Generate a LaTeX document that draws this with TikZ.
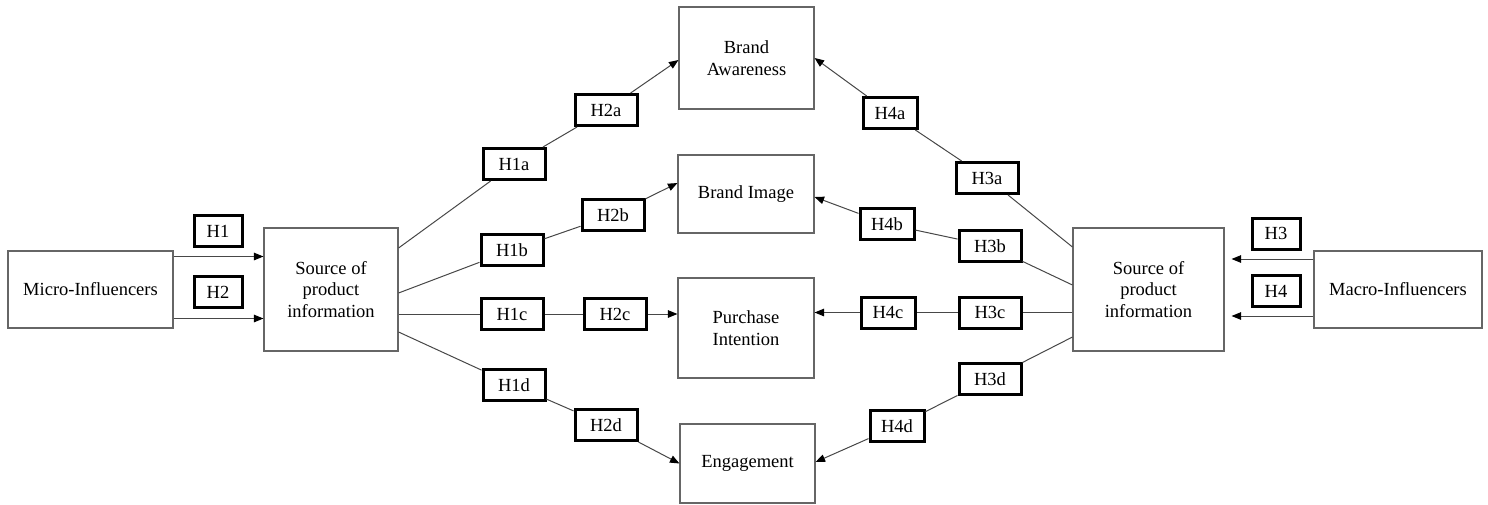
\documentclass[tikz,border=0pt]{standalone}
\usepackage{fontspec}
\setmainfont{Liberation Serif}
\usetikzlibrary{arrows.meta}

\begin{document}
\begin{tikzpicture}[x=1pt,y=-1pt,
    box/.style={draw=black!60,line width=1.1pt,align=center,inner sep=0pt,font=\fontsize{18.5}{21.7}\selectfont},
    hyp/.style={draw=black,line width=3pt,minimum width=62pt,minimum height=31pt,inner sep=0pt,font=\fontsize{18.5}{22}\selectfont},
    link/.style={draw=black!72,line width=1pt},
    arr/.style={link,-{Triangle[length=9.5pt,width=7.5pt,color=black]}}]
            \useasboundingbox (0,0) rectangle (1488,504);

            \node[box,minimum width=165pt,minimum height=77pt] (micro) at (90.5,289.5) {Micro-Influencers};
            \node[box,minimum width=134pt,minimum height=123pt] (src1) at (331,289.5) {Source of\\product\\information};
            \node[box,minimum width=151pt,minimum height=123pt] (src2) at (1148.5,289.5) {Source of\\product\\information};
            \node[box,minimum width=168pt,minimum height=77pt] (macro) at (1398,289.5) {Macro-Influencers};

            \node[box,minimum width=135pt,minimum height=102pt] (aware) at (746.5,58) {Brand\\Awareness};
            \node[box,minimum width=136pt,minimum height=78pt] (image) at (746,194) {Brand Image};
            \node[box,minimum width=136pt,minimum height=100pt] (purch) at (746,328) {Purchase\\Intention};
            \node[box,minimum width=135pt,minimum height=79pt] (engage) at (747.5,463.5) {Engagement};

            \node[hyp,minimum width=48pt] (h1) at (218,231) {H1};
            \node[hyp,minimum width=48pt] (h2) at (218,292) {H2};
            \node[hyp,minimum width=48pt] (h3) at (1276,233.5) {H3};
            \node[hyp,minimum width=48pt] (h4) at (1276,291) {H4};

            \node[hyp] (h1a) at (514,164) {H1a};
            \node[hyp] (h2a) at (606,110) {H2a};
            \node[hyp] (h1b) at (512,250) {H1b};
            \node[hyp] (h2b) at (613,215) {H2b};
            \node[hyp] (h1c) at (512,314) {H1c};
            \node[hyp] (h2c) at (615,314) {H2c};
            \node[hyp] (h1d) at (514,385) {H1d};
            \node[hyp] (h2d) at (606,425) {H2d};

            \node[hyp] (h3a) at (987,178) {H3a};
            \node[hyp,minimum width=54pt] (h4a) at (890,113) {H4a};
            \node[hyp] (h3b) at (990,246) {H3b};
            \node[hyp,minimum width=54pt] (h4b) at (887,224) {H4b};
            \node[hyp] (h3c) at (990,312.5) {H3c};
            \node[hyp,minimum width=54pt] (h4c) at (888,312.5) {H4c};
            \node[hyp] (h3d) at (990,379) {H3d};
            \node[hyp,minimum width=54pt] (h4d) at (897,426) {H4d};

            \draw[arr] ([yshift=33pt]micro.east) -- ([yshift=33pt]src1.west);
            \draw[arr] ([yshift=-29pt]micro.east) -- ([yshift=-29pt]src1.west);
            \draw[arr,shorten >=7pt] ([yshift=30.5pt]macro.west) -- ([yshift=30.5pt]src2.east);
            \draw[arr,shorten >=7pt] ([yshift=-26.5pt]macro.west) -- ([yshift=-26.5pt]src2.east);

            \draw[arr] ([yshift=41.5pt]src1.east) -- (h1a) -- (h2a) -- ([yshift=-2pt]aware.west);
            \draw[arr] ([yshift=-3.5pt]src1.east) -- (h1b) -- (h2b) -- ([yshift=11pt]image.west);
            \draw[arr] ([yshift=-24.5pt]src1.east) -- (h1c) -- (h2c) -- ([yshift=14pt]purch.west);
            \draw[arr] ([yshift=-42.5pt]src1.east) -- (h1d) -- (h2d) -- (engage.west);

            \draw[arr] ([yshift=42.5pt]src2.west) -- (h3a) -- (h4a) -- (aware.east);
            \draw[arr] ([yshift=4.5pt]src2.west) -- (h3b) -- (h4b) -- ([yshift=-3pt]image.east);
            \draw[arr] ([yshift=-23pt]src2.west) -- (h3c) -- (h4c) -- ([yshift=15.5pt]purch.east);
            \draw[arr] ([yshift=-47.5pt]src2.west) -- (h3d) -- (h4d) -- ([yshift=1.5pt]engage.east);
        \end{tikzpicture}
\end{document}
